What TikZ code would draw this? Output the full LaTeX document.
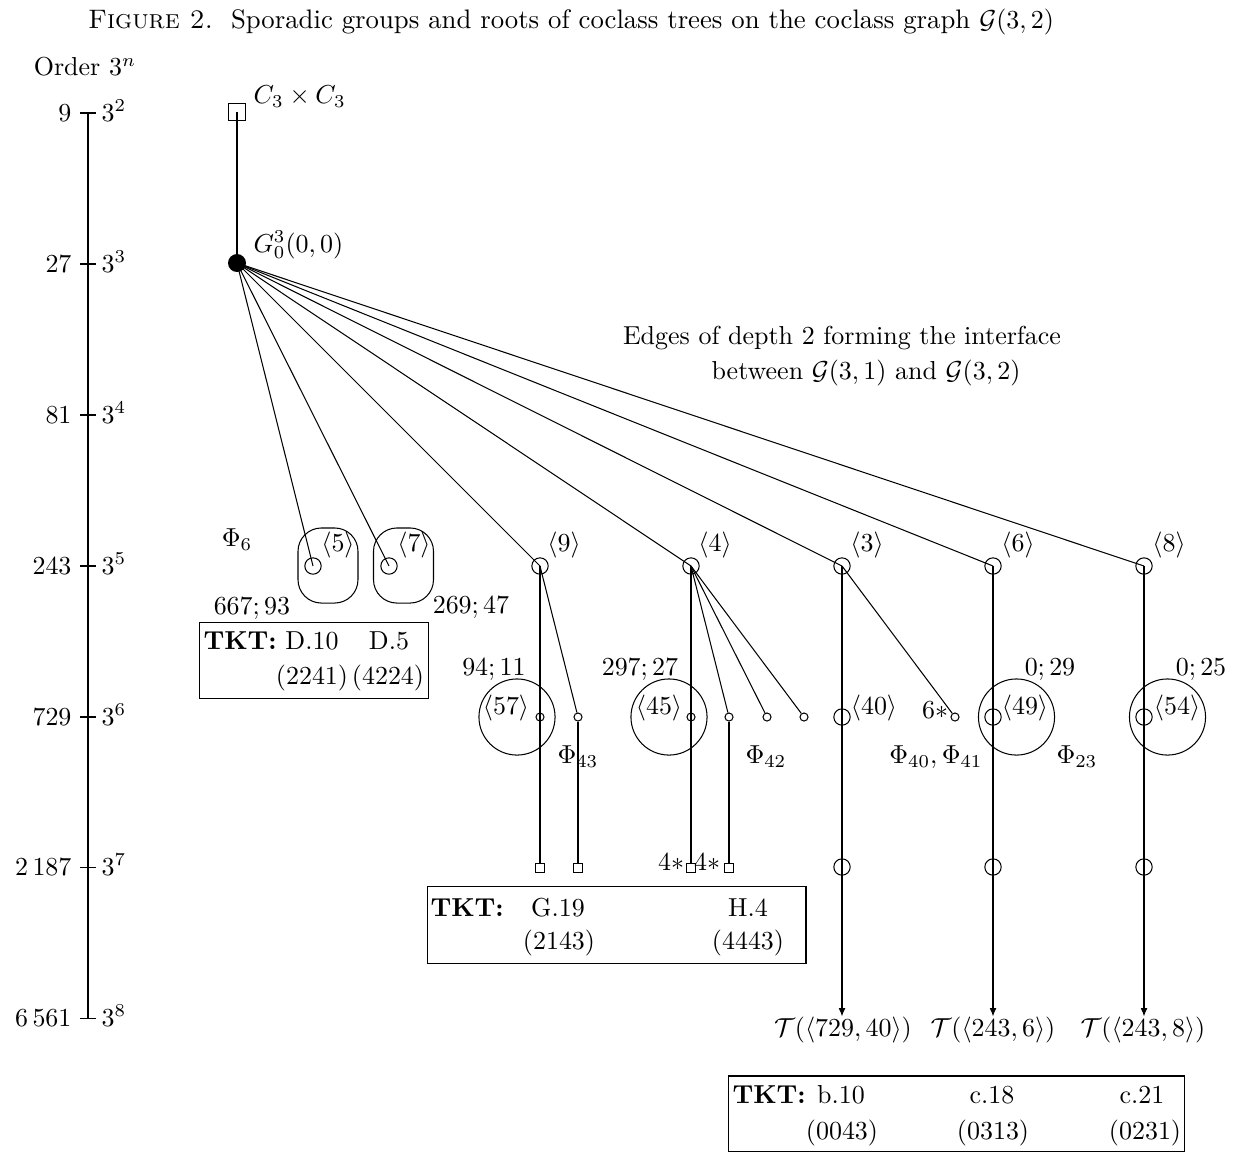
\documentclass[tikz,border=0pt]{standalone}
\usetikzlibrary{arrows.meta}
\begin{document}
\begin{tikzpicture}[x=0.385pt,y=-0.385pt,
  every node/.style={inner sep=0pt},
  vtx/.style={draw,circle,minimum size=6.3pt,inner sep=0pt},
  svtx/.style={draw,circle,minimum size=3.1pt,inner sep=0pt},
  bigc/.style={draw,circle,minimum size=29.3pt,inner sep=0pt},
  sqv/.style={draw,rectangle,minimum size=6.2pt,inner sep=0pt},
  ssq/.style={draw,rectangle,minimum size=3.5pt,inner sep=0pt},
  rbox/.style={draw,rounded corners=9pt,minimum width=23.1pt,minimum height=28.9pt},
  tktbox/.style={draw,rectangle},
  arr/.style={-{Latex[length=3.2pt,width=2.6pt]}},
]
\useasboundingbox (0,0) rectangle (1243,1152);

% title
\node (title) at (571,22) {\fontsize{10.3pt}{12pt}\selectfont\textsc{Figure 2.}\ \ Sporadic groups and roots of coclass trees on the coclass graph $\mathcal{G}(3,2)$};

% axis
\node (order) at (85,67) {Order $3^n$};
\coordinate (a2) at (88,113);
\coordinate (a8) at (88,1018);
\draw (a2) -- (a8);
\foreach \yy in {113,264,415,566,717,867,1018} \draw (80,\yy) -- (96,\yy);
\node[anchor=base east] (o2) at (72,121) {$9$};
\node[anchor=base east] (o3) at (72,272) {$27$};
\node[anchor=base east] (o4) at (72,423) {$81$};
\node[anchor=base east] (o5) at (72,574) {$243$};
\node[anchor=base east] (o6) at (72,725) {$729$};
\node[anchor=base east] (o7) at (72,875) {$2\,187$};
\node[anchor=base east] (o8) at (72,1026) {$6\,561$};
\node[anchor=base west] (p2) at (101,121) {$3^2$};
\node[anchor=base west] (p3) at (101,272) {$3^3$};
\node[anchor=base west] (p4) at (101,423) {$3^4$};
\node[anchor=base west] (p5) at (101,574) {$3^5$};
\node[anchor=base west] (p6) at (101,725) {$3^6$};
\node[anchor=base west] (p7) at (101,875) {$3^7$};
\node[anchor=base west] (p8) at (101,1026) {$3^8$};

% top vertices
\node[sqv] (C) at (237,112) {};
\node[anchor=west] (Clbl) at (253,97) {$C_3\times C_3$};
\node[draw,circle,fill=black,minimum size=6.5pt] (G) at (237,263) {};
\node[anchor=west] (Glbl) at (253,245) {$G_0^3(0,0)$};
\draw (C.center) -- (G.center);

% interface label
\node (if1) at (842,338) {Edges of depth 2 forming the interface};
\node (if2) at (866,373) {between $\mathcal{G}(3,1)$ and $\mathcal{G}(3,2)$};

% level 5
\node[vtx] (n5) at (313,566) {};
\node[vtx] (n7) at (389,566) {};
\node[vtx] (n9) at (540,566) {};
\node[vtx] (n4) at (691,566) {};
\node[vtx] (n3) at (842,566) {};
\node[vtx] (n6) at (993,566) {};
\node[vtx] (n8) at (1144,566) {};
\node[rbox] (r5) at (328,565.5) {};
\node[rbox] (r7) at (403.5,565.5) {};
\node (l5) at (338,545) {$\langle 5\rangle$};
\node (l7) at (414,545) {$\langle 7\rangle$};
\node (l9) at (564,545) {$\langle 9\rangle$};
\node (l4) at (715,545) {$\langle 4\rangle$};
\node (l3) at (867,545) {$\langle 3\rangle$};
\node (l6) at (1018,545) {$\langle 6\rangle$};
\node (l8) at (1169,545) {$\langle 8\rangle$};
\node (phi6) at (237,540) {$\Phi_6$};
\node (i5) at (252,609) {$667;93$};
\node (i7) at (471,608) {$269;47$};
\foreach \n in {n5,n7,n9,n4,n3,n6,n8} \draw (G.center) -- (\n.center);

% TKT box 1
\node[tktbox,minimum width=87.8pt,minimum height=29.6pt] (tkt1) at (314,660.5) {};
\node[anchor=west] (t1a) at (203,641) {\textbf{TKT:}};
\node (t1b) at (312,641) {D.10};
\node (t1c) at (389,641) {D.5};
\node (t1d) at (312,678) {(2241)};
\node (t1e) at (388,678) {(4224)};

% level 6
\node[svtx] (s57) at (540,717) {};
\node[svtx] (s9b) at (578,717) {};
\node[bigc] (b57) at (517,717) {};
\node (l57) at (506,708) {$\langle 57\rangle$};
\node (i57) at (494,670) {$94;11$};
\node (phi43) at (578,757) {$\Phi_{43}$};

\node[svtx] (s45) at (691,717) {};
\node[svtx] (s4b) at (729,717) {};
\node[svtx] (s4c) at (767,717) {};
\node[svtx] (s4d) at (804,717) {};
\node[bigc] (b45) at (669,717) {};
\node (l45) at (659,708) {$\langle 45\rangle$};
\node (i45) at (640,670) {$297;27$};
\node (phi42) at (766,757) {$\Phi_{42}$};

\node[vtx] (c40) at (842,717) {};
\node (l40) at (874,708) {$\langle 40\rangle$};
\node[svtx] (s6s) at (955,717) {};
\node (st6) at (935,710) {$6*$};
\node (phi40) at (936,757) {$\Phi_{40},\Phi_{41}$};

\node[vtx] (c49) at (993,717) {};
\node[bigc] (b49) at (1016.5,717) {};
\node (l49) at (1025,708) {$\langle 49\rangle$};
\node (i49) at (1050,670) {$0;29$};
\node (phi23) at (1077,757) {$\Phi_{23}$};

\node[vtx] (c54) at (1144,717) {};
\node[bigc] (b54) at (1167.5,717) {};
\node (l54) at (1177,708) {$\langle 54\rangle$};
\node (i54) at (1201,670) {$0;25$};

% level 7
\node[ssq] (q1) at (540,868) {};
\node[ssq] (q2) at (578,868) {};
\node[ssq] (q3) at (691,868) {};
\node[ssq] (q4) at (729,868) {};
\node (st4a) at (671,862) {$4*$};
\node (st4b) at (707,862) {$4*$};
\node[vtx] (c3) at (842,867) {};
\node[vtx] (c6) at (993,867) {};
\node[vtx] (c8) at (1144,867) {};

% TKT box 2
\node[tktbox,minimum width=145.9pt,minimum height=29.3pt] (tkt2) at (616.5,925) {};
\node[anchor=west] (t2a) at (430,908) {\textbf{TKT:}};
\node (t2b) at (558,908) {G.19};
\node (t2c) at (748,908) {H.4};
\node (t2d) at (559,943) {(2143)};
\node (t2e) at (748,943) {(4443)};

% level 8 labels
\node (T1) at (843,1030) {$\mathcal{T}(\langle 729,40\rangle)$};
\node (T2) at (993,1030) {$\mathcal{T}(\langle 243,6\rangle)$};
\node (T3) at (1143,1030) {$\mathcal{T}(\langle 243,8\rangle)$};

% TKT box 3
\node[tktbox,minimum width=175.2pt,minimum height=28.9pt] (tkt3) at (956.5,1113.5) {};
\node[anchor=west] (t3a) at (732,1095) {\textbf{TKT:}};
\node (t3b) at (841,1095) {b.10};
\node (t3c) at (992,1095) {c.18};
\node (t3d) at (1142,1095) {c.21};
\node (t3e) at (842,1133) {(0043)};
\node (t3f) at (993,1133) {(0313)};
\node (t3g) at (1145,1133) {(0231)};

% edges
\draw (n9.center) -- (q1);
\draw (n9.center) -- (s9b);
\draw (s9b) -- (q2);
\draw (n4.center) -- (q3);
\draw (n4.center) -- (s4b);
\draw (s4b) -- (q4);
\draw (n4.center) -- (s4c);
\draw (n4.center) -- (s4d);
\draw (n3.center) -- (s6s);
\draw (n3.center) -- (c40.center) -- (c3.center);
\draw[arr] (c3.center) -- (c3.center |- T1.north);
\draw (n6.center) -- (c49.center) -- (c6.center);
\draw[arr] (c6.center) -- (c6.center |- T2.north);
\draw (n8.center) -- (c54.center) -- (c8.center);
\draw[arr] (c8.center) -- (c8.center |- T3.north);
\end{tikzpicture}
\end{document}
